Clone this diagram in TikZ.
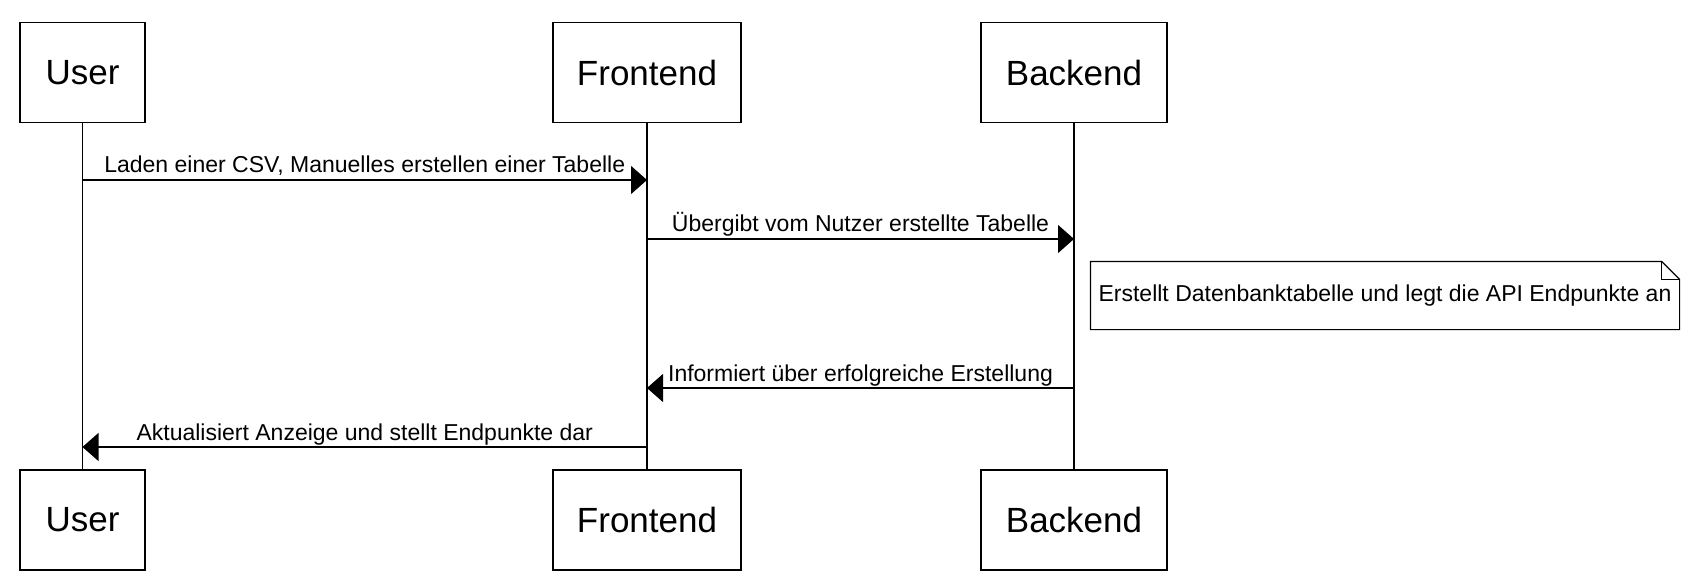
\documentclass[tikz,border=0pt]{standalone}
\usepackage{fontspec}
\setmainfont{Liberation Sans}
\usepackage{tikz}
\usetikzlibrary{arrows.meta,positioning}

\begin{document}
\begin{tikzpicture}[x=1pt,y=-1pt,line width=1.2pt]%
\useasboundingbox (0,0) rectangle (1692,572);%
\tikzstyle{msg}=[-{Triangle[length=16pt,width=28pt]}] %%
\tikzstyle{lbl}=[font=\fontsize{23}{27}\selectfont,inner sep=0pt] %%
\begin{scope}[shape=rectangle,inner sep=0pt]%
\tikzstyle{every node}=[draw,minimum height=100pt,font=\fontsize{35}{41}\selectfont] %%
\node[minimum width=125pt] (user1) at (82.5,72.5) {User}; %%
\node[minimum width=188pt] (front1) at (647,72.5) {Frontend}; %%
\node[minimum width=186pt] (back1) at (1074,72.5) {Backend}; %%
\node[minimum width=125pt] (user2) at (82.5,520) {User}; %%
\node[minimum width=188pt] (front2) at (647,520) {Frontend}; %%
\node[minimum width=186pt] (back2) at (1074,520) {Backend}; %%
\end{scope}
\draw (user1)--(user2); %%
\draw (front1)--(front2); %%
\draw (back1)--(back2); %%
\coordinate (m1a) at (82.5,180); %%
\coordinate (m1b) at (647,180); %%
\coordinate (m2a) at (647,239); %%
\coordinate (m2b) at (1074,239); %%
\coordinate (m3a) at (1074,388); %%
\coordinate (m3b) at (647,388); %%
\coordinate (m4a) at (647,447); %%
\coordinate (m4b) at (82.5,447); %%
\draw[msg] (m1a)--(m1b) node[lbl,midway,anchor=base,yshift=7pt]{Laden einer CSV, Manuelles erstellen einer Tabelle}; %%
\draw[msg] (m2a)--(m2b) node[lbl,midway,anchor=base,yshift=7pt]{Übergibt vom Nutzer erstellte Tabelle}; %%
\draw[msg] (m3a)--(m3b) node[lbl,midway,anchor=base,yshift=7pt]{Informiert über erfolgreiche Erstellung}; %%
\draw[msg] (m4a)--(m4b) node[lbl,midway,anchor=base,yshift=7pt]{Aktualisiert Anzeige und stellt Endpunkte dar}; %%
\node[lbl,minimum width=588pt,minimum height=67pt] (note) at (1385,295.5) {Erstellt Datenbanktabelle und legt die API Endpunkte an}; %%
\draw (note.north west)--([xshift=-18pt]note.north east)--([yshift=-18pt]note.north east)--(note.south east)--(note.south west)--cycle; %%
\draw ([xshift=-18pt]note.north east)--([xshift=-18pt,yshift=-18pt]note.north east)--([yshift=-18pt]note.north east); %%
\end{tikzpicture}
\end{document}
